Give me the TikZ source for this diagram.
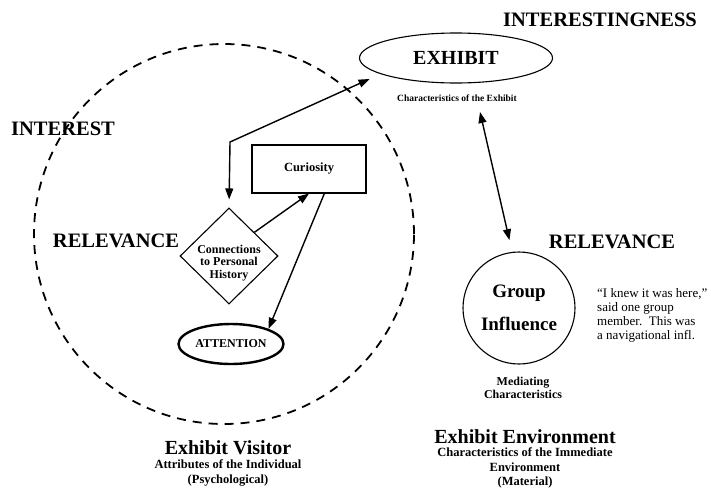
\documentclass[tikz,border=0pt]{standalone}
\usepackage{fontspec}
\setmainfont{Liberation Serif}
\usetikzlibrary{shapes.geometric,arrows.meta}
\begin{document}
\begin{tikzpicture}[x=1pt,y=-1pt,
  heading/.style={font=\fontsize{20.5}{24}\selectfont\bfseries, inner sep=0pt},
  caption/.style={font=\fontsize{12}{13}\selectfont\bfseries, align=center, inner sep=0pt},
  outline/.style={draw, line width=1.1pt},
  tip/.tip={Triangle[length=11pt,width=8pt]},
  oneway/.style={line width=1.4pt, -tip},
  twoway/.style={line width=1.4pt, tip-tip},
]
\useasboundingbox[fill=white] (0,0) rectangle (711,490);

% the visitor's sphere
\draw[line width=1.8pt, dash pattern=on 9pt off 7pt] (224,234) circle[radius=190pt];

% headings
\node[heading] (interestingness) at (600,20) {INTERESTINGNESS};
\node[heading] (interest) at (63,129) {INTEREST};
\node[heading] (relleft) at (116,241) {RELEVANCE};
\node[heading] (relright) at (612,242) {RELEVANCE};

% the exhibit
\node[outline, ellipse, minimum width=193pt, minimum height=50pt, inner sep=0pt,
      font=\fontsize{20}{24}\selectfont\bfseries] (exhibit) at (456,58) {EXHIBIT};
\node[caption, font=\fontsize{9.5}{11}\selectfont\bfseries] (exhcap) at (457,98) {Characteristics of the Exhibit};

% the visitor's attributes
\node[outline, minimum width=114pt, minimum height=48pt, inner sep=0pt,
      font=\fontsize{12.5}{14}\selectfont\bfseries] (cur) at (309,169) {Curiosity};
\node[outline, diamond, minimum width=98pt, minimum height=96pt, inner sep=0pt] (hist) at (229,256) {};
\node[caption, font=\fontsize{12}{12.5}\selectfont\bfseries] (histtext) at (229,263) {Connections\\to Personal\\History};
\node[draw, ellipse, line width=2.4pt, minimum width=105pt, minimum height=40pt, inner sep=0pt,
      font=\fontsize{12}{14}\selectfont\bfseries] (att) at (231,344) {ATTENTION};

% the environment
\node[outline, circle, minimum size=112pt, inner sep=0pt, align=center,
      font=\fontsize{19}{33}\selectfont\bfseries] (group) at (519,308) {Group\\Influence};
\node[anchor=north west, align=left, inner sep=0pt, font=\fontsize{13}{14}\selectfont] (quote) at (597,288)
  {``I knew it was here,''\\said one group\\member.\ \ This was\\a navigational infl.};
\node[caption] (med) at (523,388) {Mediating\\Characteristics};

% captions at the foot
\node[heading, font=\fontsize{20}{22}\selectfont\bfseries] (visitor) at (228,448) {Exhibit Visitor};
\node[caption, font=\fontsize{12.5}{15}\selectfont\bfseries] (visitorsub) at (228,473) {Attributes of the Individual\\(Psychological)};
\node[heading, font=\fontsize{20}{22}\selectfont\bfseries] (env) at (525,437) {Exhibit Environment};
\node[caption, font=\fontsize{12.5}{14.5}\selectfont\bfseries] (envsub) at (525,468) {Characteristics of the Immediate\\Environment\\(Material)};

% connectors
\coordinate (bend) at (230,142);
\coordinate (capfoot) at (480,112);
\draw[twoway, shorten <=8pt, shorten >=12pt] (hist.north) -- (bend) -- (exhibit.192);
\draw[oneway] (hist.43) -- (cur.south);
\draw[oneway] (cur.-58) -- (att.22);
\draw[twoway, shorten >=12pt] (capfoot) -- (group.97);
\end{tikzpicture}
\end{document}
